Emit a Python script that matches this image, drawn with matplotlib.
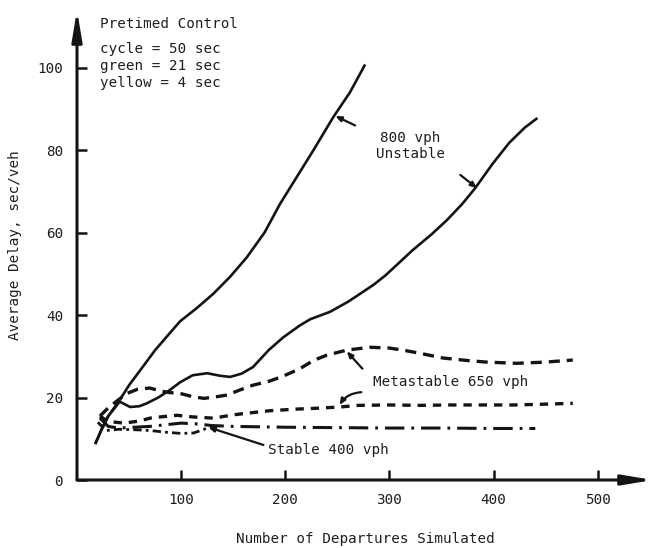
import matplotlib
matplotlib.use("Agg")
import matplotlib.pyplot as plt

plt.rcParams["font.family"] = ["DejaVu Sans Mono"]
plt.rcParams["lines.scale_dashes"] = False

# 800 vph (unstable) runs
unstable_a_x = [18, 24, 30, 41, 50, 63, 75, 89, 99, 115, 131, 147, 163, 180, 195, 211, 227, 246, 262, 276]
unstable_a_y = [9, 12.5, 15.5, 19.4, 23, 27.4, 31.5, 35.6, 38.5, 41.7, 45.2, 49.3, 54, 60, 67, 73.5, 80, 88, 94, 100.5]
unstable_b_x = [18, 24, 30, 41, 51, 60, 67, 78, 89, 99, 111, 125, 137, 147, 158, 169, 184, 198, 214, 224,
                243, 260, 272, 285, 296, 308, 322, 340, 355, 370, 382, 399, 415, 430, 441]
unstable_b_y = [9, 12.5, 15.5, 19, 17.7, 17.9, 18.6, 20, 21.8, 23.7, 25.4, 25.9, 25.3, 25.0, 25.8, 27.4, 31.5,
                34.6, 37.5, 39.0, 40.8, 43.2, 45.2, 47.4, 49.6, 52.4, 55.7, 59.5, 63, 67, 70.7, 76.7, 81.8,
                85.5, 87.6]

# 650 vph (metastable) runs
meta_a_x = [22, 30, 40, 48, 58, 70, 80, 89, 99, 111, 122, 134, 144, 156, 169, 185, 198, 214, 227, 240,
            259, 281, 300, 313, 330, 351, 374, 393, 422, 450, 476]
meta_a_y = [15.5, 17.5, 19.5, 21, 22, 22.3, 21.6, 21.2, 21, 20.2, 19.8, 20.2, 20.6, 21.8, 23, 24, 25.2, 27,
            29, 30.3, 31.5, 32.2, 32, 31.5, 30.7, 29.6, 29, 28.6, 28.3, 28.6, 29.1]
meta_b_x = [22, 30, 45, 60, 70, 80, 96, 111, 131, 150, 163, 185, 211, 230, 252, 270, 300, 330, 358, 390,
            420, 450, 476]
meta_b_y = [15.5, 14.2, 13.8, 14.3, 15, 15.3, 15.7, 15.3, 15, 15.8, 16.2, 16.8, 17.2, 17.4, 17.7, 18.1,
            18.2, 18.1, 18.2, 18.2, 18.2, 18.4, 18.6]

# 400 vph (stable) runs
stable_a_x = [22, 30, 40, 55, 70, 85, 100, 115, 130, 150, 200, 250, 300, 350, 400, 440]
stable_a_y = [15, 13, 12.6, 12.8, 13, 13.4, 13.8, 13.6, 13.2, 13, 12.8, 12.7, 12.6, 12.6, 12.5, 12.5]
stable_b_x = [20, 28, 40, 55, 70, 85, 100, 112, 122, 130]
stable_b_y = [14, 12, 12.3, 12.2, 12, 11.6, 11.3, 11.4, 12.3, 13.2]

x_ticks = [100, 200, 300, 400, 500]
y_ticks = [0, 20, 40, 60, 80, 100]

INK = "#141414"
TXT = "#1e1e1e"

fig = plt.figure(figsize=(6.53, 5.48), dpi=100)
ax = fig.add_axes([77 / 653, 68 / 548, 576 / 653, 470 / 548])
ax.set_xlim(0, 553)
ax.set_ylim(0, 114)

for s in ax.spines.values():
    s.set_visible(False)

# axes drawn as arrows
ax.annotate("", xy=(1.0, 0), xytext=(0, 0), xycoords="axes fraction",
            arrowprops=dict(arrowstyle="-|>,head_length=1.8,head_width=0.3", lw=2.2, color=INK,
                            shrinkA=0, shrinkB=0))
ax.annotate("", xy=(0, 1.0), xytext=(0, 0), xycoords="axes fraction",
            arrowprops=dict(arrowstyle="-|>,head_length=1.8,head_width=0.3", lw=2.2, color=INK,
                            shrinkA=0, shrinkB=0))

ax.set_xticks(x_ticks)
ax.set_yticks(y_ticks)
ax.tick_params(axis="both", direction="in", length=7, width=1.8, color=INK,
               labelsize=10.3, labelcolor=TXT)
ax.tick_params(axis="y", pad=10)
ax.tick_params(axis="x", pad=9)

# solid runs
ax.plot(unstable_a_x, unstable_a_y, color=INK, lw=1.9, solid_joinstyle="round")
ax.plot(unstable_b_x, unstable_b_y, color=INK, lw=1.9, solid_joinstyle="round")

# dashed runs
l1, = ax.plot(meta_a_x, meta_a_y, color=INK, lw=2.4)
l1.set_dashes((8, 5))
l2, = ax.plot(meta_b_x, meta_b_y, color=INK, lw=2.4)
l2.set_dashes((6, 5))

# dash-dot runs
l3, = ax.plot(stable_a_x, stable_a_y, color=INK, lw=2.2)
l3.set_dashes((14, 5, 2, 5))
l4, = ax.plot(stable_b_x, stable_b_y, color=INK, lw=2.0)
l4.set_dashes((6, 3, 2, 3))

# annotations
ax.text(22, 110.5, "Pretimed Control", fontsize=10.3, color=TXT, va="center", ha="left")
ax.text(22, 104.6, "cycle = 50 sec", fontsize=10.3, color=TXT, va="center", ha="left")
ax.text(22, 100.4, "green = 21 sec", fontsize=10.3, color=TXT, va="center", ha="left")
ax.text(22, 96.2, "yellow = 4 sec", fontsize=10.3, color=TXT, va="center", ha="left")

ax.text(320, 81, "800 vph\nUnstable", fontsize=10.3, color=TXT, va="center", ha="center",
        linespacing=1.25)
arrow = dict(arrowstyle="-|>,head_length=0.35,head_width=0.15", lw=1.6, color=INK,
             shrinkA=0, shrinkB=0)
ax.annotate("", xy=(248, 88.3), xytext=(267, 86), arrowprops=arrow)
ax.annotate("", xy=(384, 70.8), xytext=(368, 74), arrowprops=arrow)

ax.text(284, 23.7, "Metastable 650 vph", fontsize=10.3, color=TXT, va="center", ha="left")
ax.annotate("", xy=(259, 31.2), xytext=(274, 27), arrowprops=arrow)
ax.annotate("", xy=(252, 18.2), xytext=(273, 21.3),
            arrowprops=dict(arrow, connectionstyle="arc3,rad=0.25"))

ax.text(183, 7.3, "Stable 400 vph", fontsize=10.3, color=TXT, va="center", ha="left")
ax.annotate("", xy=(126, 12.8), xytext=(179, 8.5), arrowprops=arrow)

ax.set_xlabel("Number of Departures Simulated", fontsize=10.3, color=TXT, labelpad=18)
ax.set_ylabel("Average Delay, sec/veh", fontsize=10.3, color=TXT, labelpad=11)

fig.savefig("out.png", dpi=100)
